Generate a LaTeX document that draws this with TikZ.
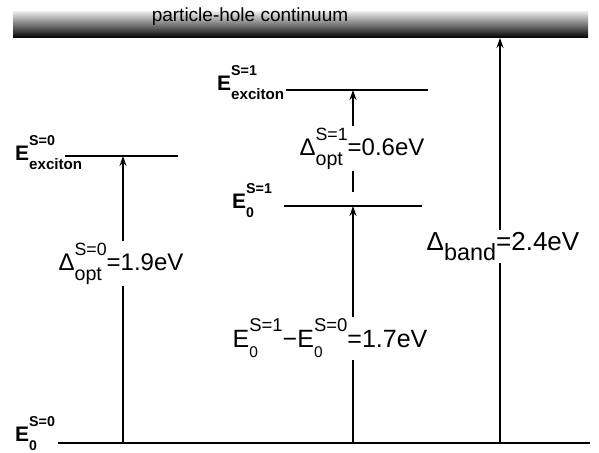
\documentclass[tikz,border=0pt]{standalone}
\usepackage{fontspec}
\setmainfont{Liberation Sans}
\usetikzlibrary{arrows.meta}
\newcommand{\supraise}{0.62em}
\newcommand{\sublower}{0.42em}
\newcommand{\supscale}{0.74}
% [subscale]{sup}{sub}
\newcommand{\supsub}[3][0.82]{%
  \setbox0\hbox{\raisebox{\supraise}{\scalebox{\supscale}{#2}}}%
  \setbox2\hbox{\raisebox{-\sublower}{\scalebox{#1}{#3}}}%
  \ifdim\wd0>\wd2 \rlap{\box2}\box0\else\rlap{\box0}\box2\fi}

\begin{document}
\begin{tikzpicture}[x=1pt,y=-1pt,
    level/.style={line width=2pt},
    jump/.style={line width=2.2pt,-{Stealth[length=10pt,width=7pt]}},
    gaplabel/.style={fill=white,inner sep=2pt,anchor=base,font=\fontsize{24}{28}\selectfont},
    lvllabel/.style={anchor=base west,inner sep=0pt,
      font=\fontsize{21}{25}\selectfont\bfseries\def\supraise{0.7em}\def\sublower{0.45em}\def\supscale{0.68}}]
    \useasboundingbox (0,0) rectangle (599,452);

    % --- continuum ---
    \shade[top color=white!90!black,bottom color=black] (13,12) rectangle (588,38);
    \node[anchor=base,font=\fontsize{19}{22}\selectfont] (cont) at (250,22) {particle-hole continuum};
    \coordinate (band) at (500,38);

    % --- levels ---
    \coordinate (gA) at (123,443);
    \coordinate (gB) at (353,443);
    \coordinate (gC) at (500,443);
    \coordinate (xA) at (123,156);
    \coordinate (oB) at (353,206);
    \coordinate (xB) at (353,90);
    \draw[level] (58,443) -- (590,443);
    \draw[level] (65,156) -- (178,156);
    \draw[level] (284,206) -- (422,206);
    \draw[level] (286,90) -- (428,90);
    \node[lvllabel] (g0) at (15,441) {E\supsub[0.67]{S=0}{0}};
    \node[lvllabel] (ex0) at (15,160) {E\supsub[0.72]{S=0}{exciton}};
    \node[lvllabel] (e01) at (232,208) {E\supsub[0.67]{S=1}{0}};
    \node[lvllabel] (ex1) at (217,90) {E\supsub[0.72]{S=1}{exciton}};

    % --- gaps ---
    \draw[jump] (gA) -- (xA);
    \draw[jump] (gB) -- (oB);
    \draw[jump,shorten <=14pt] (oB) -- (xB);
    \draw[jump] (gC) -- (band);
    \node[gaplabel] (dA) at (121,270) {Δ\supsub{S=0}{opt}=1.9eV};
    \node[gaplabel] (dB) at (362,155) {Δ\supsub{S=1}{opt}=0.6eV};
    \node[gaplabel,font=\fontsize{25}{29}\selectfont] (dT) at (330,347)
      {E\supsub[0.62]{S=1}{0}−E\supsub[0.62]{S=0}{0}=1.7eV};
    \node[gaplabel,font=\fontsize{26}{30}\selectfont] (dC) at (503,250) {Δ\supsub[0.9]{}{band}=2.4eV};
\end{tikzpicture}
\end{document}
